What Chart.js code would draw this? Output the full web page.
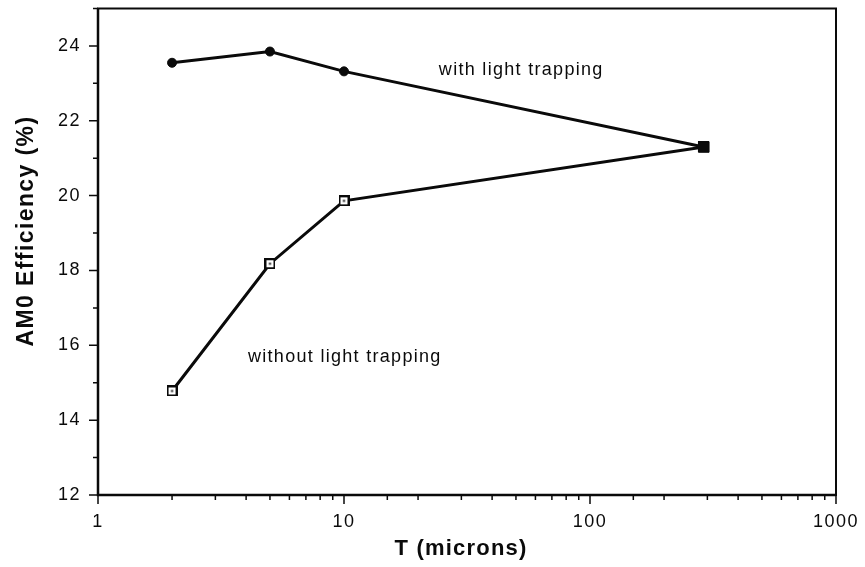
<!DOCTYPE html>
<html>
<head>
<meta charset="utf-8">
<script src="https://cdn.jsdelivr.net/npm/chart.js@4.4.0/dist/chart.umd.min.js"></script>
<style>
    body { margin: 0; background: #fff; }
    #wrap { width: 865px; height: 567px; }
</style>
</head>
<body>
<div id="wrap"><canvas id="myChart" width="865" height="567"></canvas></div>
<script>
/* DONNEES DU GRAPHIQUE */
const thickness = [2, 5, 10, 290];
const withTrapping = [23.55, 23.85, 23.32, 21.3];
const withoutTrapping = [14.78, 18.18, 19.86, 21.3];
const xTickLabels = [1, 10, 100, 1000];
const yTickLabels = [12, 14, 16, 18, 20, 22, 24];

const FONT = '"Liberation Sans", Arial, Helvetica, sans-serif';
const INK = '#0a0a0a';

/* marqueur carre ouvert avec un point au centre */
function openSquare() {
    const c = document.createElement('canvas');
    c.width = 11;
    c.height = 11;
    const g = c.getContext('2d');
    g.fillStyle = '#fff';
    g.fillRect(0, 0, 11, 11);
    g.strokeStyle = INK;
    g.lineWidth = 2;
    g.strokeRect(1, 1, 9, 9);
    g.fillStyle = INK;
    g.fillRect(4.5, 4.5, 2, 2);
    return c;
}

function isDecade(v) {
    const l = Math.log10(v);
    return Math.abs(l - Math.round(l)) < 1e-9;
}

/* cadre, graduations, titres et annotations */
const decorPlugin = {
    id: 'decor',
    beforeDraw(chart) {
        chart.ctx.letterSpacing = '1.5px';
    },
    beforeDatasetsDraw(chart) {
        const ctx = chart.ctx;
        const a = chart.chartArea;
        const xs = chart.scales.x;
        const ys = chart.scales.y;
        ctx.save();
        ctx.strokeStyle = INK;
        ctx.lineWidth = 2;
        ctx.strokeRect(a.left, a.top, a.right - a.left, a.bottom - a.top);
        ctx.lineWidth = 2.5;
        ctx.beginPath();
        ctx.moveTo(a.left, a.top);
        ctx.lineTo(a.left, a.bottom);
        ctx.lineTo(a.right, a.bottom);
        ctx.stroke();
        ctx.lineWidth = 1.5;
        ctx.beginPath();
        xs.ticks.forEach(function(t) {
            const px = xs.getPixelForValue(t.value);
            const len = isDecade(t.value) ? 9 : 5;
            ctx.moveTo(px, a.bottom);
            ctx.lineTo(px, a.bottom + len);
        });
        ys.ticks.forEach(function(t) {
            const py = ys.getPixelForValue(t.value);
            const len = yTickLabels.includes(t.value) ? 9 : 5;
            ctx.moveTo(a.left, py);
            ctx.lineTo(a.left - len, py);
        });
        ctx.stroke();
        ctx.restore();
    },
    afterDraw(chart) {
        const ctx = chart.ctx;
        const xs = chart.scales.x;
        const ys = chart.scales.y;
        ctx.save();
        ctx.fillStyle = INK;
        ctx.textBaseline = 'middle';

        ctx.letterSpacing = '1.3px';
        ctx.font = '18px ' + FONT;
        ctx.textAlign = 'left';
        ctx.fillText('with light trapping', xs.getPixelForValue(24.3), ys.getPixelForValue(23.36));
        ctx.fillText('without light trapping', xs.getPixelForValue(4.07), ys.getPixelForValue(15.7));

        ctx.font = 'bold 22px ' + FONT;
        ctx.letterSpacing = '1.2px';
        ctx.textAlign = 'center';
        ctx.fillText('T (microns)', 461, 549);

        ctx.font = 'bold 23px ' + FONT;
        ctx.translate(27, 231);
        ctx.rotate(-Math.PI / 2);
        ctx.letterSpacing = '1.4px';
        ctx.fillText('AM0 Efficiency (%)', 0, 0);
        ctx.restore();
    }
};

/* PARAMETRES DU GRAPHIQUE */
const ctx = document.getElementById('myChart').getContext('2d');
const myChart = new Chart(ctx, {
    type: 'line',
    data: {
        labels: thickness,
        datasets: [{
            label: 'with light trapping',
            data: thickness.map(function(t, i) { return { x: t, y: withTrapping[i] }; }),
            borderColor: INK,
            backgroundColor: INK,
            borderWidth: 3,
            pointStyle: ['circle', 'circle', 'circle', 'rect'],
            pointRadius: [4.5, 4.5, 4.5, 7.5],
            pointBorderWidth: 1,
            pointBackgroundColor: INK,
            pointBorderColor: INK,
            tension: 0
        }, {
            label: 'without light trapping',
            data: thickness.map(function(t, i) { return { x: t, y: withoutTrapping[i] }; }),
            borderColor: INK,
            borderWidth: 3,
            pointStyle: openSquare(),
            pointRadius: 5,
            tension: 0
        }]
    },
    options: {
        responsive: false,
        animation: false,
        layout: {
            padding: { top: 8, right: 29, left: 0, bottom: 0 }
        },
        plugins: {
            legend: { display: false },
            tooltip: { enabled: false },
            title: { display: false }
        },
        scales: {
            x: {
                type: 'logarithmic',
                min: 1,
                max: 1000,
                afterFit: function(s) {
                    s.height = 72;
                    s.paddingLeft = 0;
                    s.paddingRight = 0;
                },
                grid: { display: false, drawTicks: false },
                border: { display: false },
                ticks: {
                    autoSkip: false,
                    maxRotation: 0,
                    padding: 16,
                    color: INK,
                    font: { size: 18, family: FONT },
                    callback: function(v) {
                        return xTickLabels.includes(v) ? String(v) : '';
                    }
                }
            },
            y: {
                min: 12,
                max: 25,
                afterFit: function(s) {
                    s.width = 98;
                    s.paddingTop = 0;
                    s.paddingBottom = 0;
                },
                grid: { display: false, drawTicks: false },
                border: { display: false },
                ticks: {
                    stepSize: 1,
                    padding: 17,
                    color: INK,
                    font: { size: 18, family: FONT },
                    callback: function(v) {
                        return yTickLabels.includes(v) ? String(v) : '';
                    }
                }
            }
        }
    },
    plugins: [decorPlugin]
});
</script>
</body>
</html>
